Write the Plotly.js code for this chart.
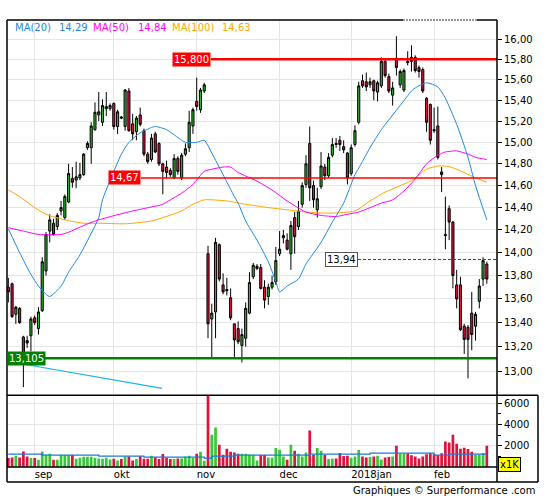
<!DOCTYPE html>
<html><head><meta charset="utf-8">
<script src="https://cdn.plot.ly/plotly-3.0.1.min.js"></script>
<style>html,body{margin:0;padding:0;background:#fff}#chart{width:545px;height:500px}</style>
</head><body><div id="chart"></div>
<script>
// ---- data (trading-day index 0 = 2017-08-23 ... 127 = 2018-02-21) ----
const open  = [13.70,13.73,13.47,13.52,13.28,13.25,13.29,13.44,13.35,13.50,13.84,14.19,14.26,14.23,14.37,14.31,14.45,14.665,14.65,14.67,
14.70,14.95,14.95,15.12,15.26,15.19,15.32,15.32,15.37,15.15,15.24,15.15,15.49,15.175,15.10,15.26,15.11,14.89,14.84,15.08,
14.99,14.80,14.77,14.74,14.67,14.85,14.67,14.89,14.95,15.155,15.39,15.31,15.49,13.99,13.43,13.49,14.07,13.72,13.68,13.61,
13.39,13.35,13.21,13.27,13.48,13.79,13.86,13.87,13.70,13.62,13.70,13.745,13.99,14.13,14.11,13.99,14.31,14.23,14.43,14.61,
14.99,14.60,14.38,14.59,14.77,14.69,14.88,14.99,15.02,14.96,14.90,14.71,14.98,15.19,15.59,15.58,15.55,15.59,15.48,15.54,
15.78,15.63,15.45,15.81,15.55,15.50,15.78,15.82,15.82,15.72,15.70,15.42,15.36,15.12,15.155,14.725,14.16,14.39,14.27,13.72,
13.72,13.37,13.36,13.48,13.37,13.58,13.77,13.90];
const high  = [13.78,13.74,13.54,13.53,13.29,13.29,13.45,13.46,13.53,13.96,14.18,14.34,14.30,14.35,14.46,14.52,14.80,14.77,14.82,14.81,
14.90,15.01,15.19,15.38,15.48,15.41,15.48,15.37,15.38,15.31,15.25,15.51,15.52,15.27,15.25,15.33,15.13,14.91,15.08,15.10,
15.00,14.81,14.83,14.76,14.89,14.87,14.90,14.99,15.30,15.33,15.62,15.52,15.57,14.06,13.56,14.13,14.08,13.82,13.78,13.69,
13.39,13.41,13.35,13.57,13.83,13.91,13.90,13.90,13.76,13.73,13.80,14.05,14.19,14.20,14.17,14.28,14.36,14.46,14.63,14.88,
15.15,14.645,14.58,14.91,14.80,14.90,15.04,15.04,15.06,15.02,14.91,14.98,15.16,15.58,15.65,15.67,15.62,15.60,15.59,15.82,
15.81,15.66,15.58,16.03,15.70,15.71,15.88,15.94,15.84,15.74,15.72,15.43,15.37,15.33,15.34,14.77,14.50,14.42,14.28,13.85,
13.79,13.39,13.38,13.66,13.49,13.77,13.96,13.92];
const low   = [13.57,13.44,13.39,13.39,12.87,13.19,13.16,13.38,13.30,13.49,13.80,14.09,14.15,14.20,14.33,14.29,14.44,14.58,14.575,14.65,
14.69,14.93,14.80,15.11,15.20,15.155,15.25,15.30,15.12,15.08,15.22,15.11,15.10,15.02,15.02,15.15,14.87,14.80,14.82,14.90,
14.78,14.52,14.665,14.68,14.66,14.70,14.65,14.87,14.91,15.08,15.30,15.28,15.47,13.27,13.10,13.27,13.75,13.64,13.63,13.42,
13.10,13.22,13.07,13.20,13.47,13.77,13.85,13.68,13.52,13.55,13.68,13.72,13.97,14.08,14.02,13.85,13.99,14.20,14.40,14.58,
14.46,14.40,14.31,14.57,14.65,14.67,14.86,14.95,14.92,14.90,14.61,14.69,14.96,15.17,15.52,15.49,15.52,15.40,15.39,15.52,
15.62,15.47,15.35,15.64,15.52,15.48,15.74,15.68,15.67,15.62,15.47,15.10,14.98,15.09,14.84,14.54,14.03,14.11,13.69,13.52,
13.33,13.14,12.94,13.17,13.25,13.52,13.71,13.73];
const close = [13.66,13.45,13.53,13.40,13.09,13.23,13.43,13.40,13.49,13.92,14.16,14.29,14.16,14.33,14.40,14.50,14.71,14.63,14.68,14.70,
14.89,14.99,15.155,15.285,15.29,15.35,15.34,15.35,15.15,15.29,15.23,15.50,15.11,15.08,15.23,15.17,14.89,14.82,15.04,14.91,
14.80,14.73,14.72,14.70,14.85,14.73,14.88,14.94,15.19,15.31,15.34,15.50,15.55,13.39,13.48,14.09,13.77,13.66,13.67,13.44,
13.255,13.24,13.30,13.52,13.74,13.89,13.88,13.69,13.59,13.70,13.74,13.93,14.03,14.15,14.03,14.24,14.14,14.37,14.60,14.80,
14.58,14.47,14.48,14.78,14.69,14.86,14.98,14.98,14.98,14.93,14.67,14.95,15.11,15.54,15.54,15.53,15.58,15.49,15.57,15.78,
15.64,15.49,15.52,15.72,15.68,15.69,15.77,15.78,15.69,15.68,15.49,15.19,15.02,15.11,14.86,14.70,14.15,14.27,13.80,13.60,
13.34,13.26,13.26,13.30,13.47,13.71,13.93,13.77];
const volume = [845,900,1060,900,1465,1000,845,845,690,1465,1155,1250,690,690,1127,1127,1127,1127,780,875,
970,970,970,875,810,780,875,715,780,620,750,1000,1000,620,750,1030,780,780,1060,900,
750,1220,875,750,750,810,810,970,1060,845,1250,1430,600,7500,3030,3720,2090,1155,1720,1440,
1370,1250,1250,1250,1155,1155,620,1127,1127,900,875,1785,1625,1000,690,2090,1530,1250,1000,1370,
3440,1127,1785,1530,1127,750,800,800,1320,1030,1060,870,1000,1600,1000,900,950,1000,1050,700,
900,950,1000,2000,1250,1250,1250,1100,1000,800,1000,1200,1300,1200,1100,1300,2400,2300,3030,2190,
1720,1810,1690,1440,1155,1155,1310,2000];
// moving averages (day index, value)
const ma20X = [0,3,6,8,10,11,14,16,19,22,24,25,27,30,32,35,38,39,42,46,47,50,52,54,57,60,61,63,66,69,71,72,74,77,79,83,86,89,92,93,96,99,104,107,108,111,114,116,119,122,124,127];
const ma20Y = [14.21,14.00,13.81,13.71,13.64,13.62,13.71,13.83,13.98,14.17,14.31,14.47,14.645,14.89,15.00,15.09,15.14,15.15,15.12,15.02,15.00,15.00,15.02,14.90,14.70,14.50,14.44,14.28,14.11,13.92,13.75,13.66,13.71,13.77,13.90,14.09,14.27,14.44,14.70,14.76,14.95,15.12,15.35,15.49,15.52,15.57,15.53,15.42,15.17,14.86,14.60,14.29];
const ma50X = [0,4,8,14,16,20,24,33,40,41,44,46,49,52,54,57,59,61,66,70,74,79,83,87,90,93,99,102,105,108,111,114,116,119,122,124,127];
const ma50Y = [14.22,14.19,14.16,14.16,14.18,14.24,14.29,14.37,14.42,14.43,14.49,14.53,14.61,14.73,14.75,14.77,14.77,14.72,14.64,14.56,14.46,14.36,14.33,14.32,14.34,14.36,14.44,14.47,14.55,14.66,14.80,14.88,14.91,14.92,14.89,14.86,14.84];
const ma100X = [0,3,7,10,15,20,24,31,38,46,49,52,58,63,69,74,79,85,92,96,100,107,111,114,117,120,124,127];
const ma100Y = [14.56,14.50,14.40,14.34,14.29,14.26,14.26,14.255,14.28,14.37,14.43,14.47,14.46,14.43,14.40,14.38,14.36,14.35,14.37,14.46,14.54,14.645,14.75,14.78,14.775,14.735,14.67,14.63];
// average volume (step line)
const vmaX = [0,9,24,36,52,54,60,80,96,113,117,127];
const vmaY = [1220,1127,1030,940,845,1030,1127,1220,1310,1127,1220,1220];
// month ticks
const monthTicks  = [7,28,50,72,91,113];
const monthLabels = ['sep','okt','nov','dec','2018jan','feb'];
const priceTicks = [13.0,13.2,13.4,13.6,13.8,14.0,14.2,14.4,14.6,14.8,15.0,15.2,15.4,15.6,15.8,16.0];
const volTicks = [2000,4000,6000];
// horizontal levels
const levelResist = 15.8, levelMid = 14.67, levelSupport = 13.105, levelLast = 13.94;
const trendX = [-0.4, 40.8];
const trendY = [13.08, 12.86];

// ---- drawing ----
const L = Math.log10;
const PX = x => (x - 7) / 490;      // pixel -> paper (x)
const PY = y => (467 - y) / 447;    // pixel -> paper (y)
const PRICE_RANGE = [L(12.804), L(16.194)];
const PRICE_DOM = [PY(395.3), 1];
const yPaper = v => PRICE_DOM[0] + (L(v) - PRICE_RANGE[0]) / (PRICE_RANGE[1] - PRICE_RANGE[0]) * (PRICE_DOM[1] - PRICE_DOM[0]);
const fmt2 = v => v.toFixed(2).replace('.', ',');
const days = open.map((_, i) => i);
const GREEN = '#2DB82D', RED = '#DC143C';

const traces = [
  {type:'bar', x:days, y:volume, xaxis:'x', yaxis:'y2', width:0.72,
   marker:{color: days.map(i => close[i] >= open[i] ? '#36C836' : RED), line:{width:0}},
   hoverinfo:'skip', showlegend:false},
  {type:'scatter', mode:'lines', x:vmaX, y:vmaY, xaxis:'x', yaxis:'y2', line:{color:'#1E78DC', width:1.3, shape:'hv'}, hoverinfo:'skip'},
  {type:'scatter', mode:'lines', x:ma100X, y:ma100Y, line:{color:'#FFA500', width:1, shape:'spline', smoothing:0.6}, hoverinfo:'skip'},
  {type:'scatter', mode:'lines', x:ma50X, y:ma50Y, line:{color:'#FF00FF', width:1, shape:'spline', smoothing:0.6}, hoverinfo:'skip'},
  {type:'scatter', mode:'lines', x:ma20X, y:ma20Y, line:{color:'#1E88E8', width:1, shape:'spline', smoothing:0.6}, hoverinfo:'skip'},
  {type:'candlestick', x:days, open, high, low, close, xaxis:'x', yaxis:'y',
   increasing:{line:{color:'#000', width:1}, fillcolor:GREEN},
   decreasing:{line:{color:'#000', width:1}, fillcolor:RED},
   whiskerwidth:0, hoverinfo:'skip', showlegend:false}
];

const K = '#000';
const hline = (x0, v, color, width, dash) => ({type:'line', xref:'paper', yref:'paper', x0, x1:1,
  y0:yPaper(v), y1:yPaper(v), line:{color, width, dash: dash || 'solid'}});
const shapes = [
  // levels
  hline(PX(211), levelResist, '#FF0000', 2.5),
  hline(PX(141), levelMid, '#FF0000', 1.5),
  hline(PX(43), levelSupport, '#008000', 2.5),
  hline(PX(358), levelLast, '#444', 1, '3px,2px'),
  {type:'line', xref:'x', yref:'paper', x0:trendX[0], x1:trendX[1], y0:yPaper(trendY[0]), y1:yPaper(trendY[1]), line:{color:'#18B4F0', width:1.2}},
  // frame
  {type:'line', xref:'paper', yref:'paper', x0:0, x1:PX(403), y0:1, y1:1, line:{color:K, width:1.5}},
  {type:'line', xref:'paper', yref:'paper', x0:PX(403), x1:PX(477), y0:1, y1:1, line:{color:'#333', width:1.2, dash:'2px,1px'}},
  {type:'line', xref:'paper', yref:'paper', x0:PX(477), x1:1, y0:1, y1:1, line:{color:K, width:1.5}},
  {type:'line', xref:'paper', yref:'paper', x0:0, x1:0, y0:1, y1:PY(482), line:{color:K, width:1.5}},
  {type:'line', xref:'paper', yref:'paper', x0:1, x1:1, y0:1, y1:PY(482), line:{color:K, width:1.5}},
  {type:'line', xref:'paper', yref:'paper', x0:0, x1:PX(538), y0:PY(395.3), y1:PY(395.3), line:{color:K, width:1.5}},
  {type:'line', xref:'paper', yref:'paper', x0:0, x1:1, y0:0, y1:0, line:{color:K, width:1.5}},
  {type:'line', xref:'paper', yref:'paper', x0:0, x1:PX(538), y0:PY(482), y1:PY(482), line:{color:K, width:1.5}},
  {type:'line', xref:'paper', yref:'paper', x0:PX(538), x1:PX(538), y0:PY(395.3), y1:PY(482), line:{color:K, width:1.5}}
];

const F = 'DejaVu Sans, Verdana, sans-serif';
const ann = (text, x, y, opts) => Object.assign({text, x, y, xref:'paper', yref:'paper', showarrow:false,
  font:{family:F, size:10, color:'#000'}, xanchor:'left', yanchor:'middle'}, opts || {});
const annotations = [
  ann('MA(20)', PX(13), PY(27), {font:{family:F,size:10,color:'#1E88E8'}}),
  ann(fmt2(ma20Y[ma20Y.length-1]), PX(57), PY(27), {font:{family:F,size:10,color:'#1E88E8'}}),
  ann('MA(50)', PX(91), PY(27), {font:{family:F,size:10,color:'#FF00FF'}}),
  ann(fmt2(ma50Y[ma50Y.length-1]), PX(136), PY(27), {font:{family:F,size:10,color:'#FF00FF'}}),
  ann('MA(100)', PX(170), PY(27), {font:{family:F,size:10,color:'#FFA500'}}),
  ann(fmt2(ma100Y[ma100Y.length-1]), PX(220), PY(27), {font:{family:F,size:10,color:'#FFA500'}}),
  ann('15,800', PX(211), yPaper(levelResist), {xanchor:'right', bgcolor:'#FF0000', borderpad:1, font:{family:F,size:10,color:'#fff'}}),
  ann('14,67', PX(141), yPaper(levelMid), {xanchor:'right', bgcolor:'#FF0000', borderpad:1, font:{family:F,size:10,color:'#fff'}}),
  ann('13,105', PX(7), yPaper(levelSupport), {xanchor:'left', bgcolor:'#008000', borderpad:1, font:{family:F,size:10,color:'#fff'}}),
  ann(fmt2(levelLast), PX(358), yPaper(levelLast), {xanchor:'right', bgcolor:'#fff', bordercolor:'#555', borderwidth:1, borderpad:1}),
  ann('x1K', PX(498.5), PY(464), {bgcolor:'#FFFF00', bordercolor:'#000', borderwidth:1, borderpad:1}),
  ann('Graphiques © Surperformance .com', PX(537), PY(491), {xanchor:'right'})
];

const layout = {
  width:545, height:500, margin:{l:7, r:48, t:20, b:33},
  paper_bgcolor:'#fff', plot_bgcolor:'#fff', showlegend:false,
  font:{family:F, size:10, color:'#000'}, boxgap:0.2,
  xaxis:{range:[-0.35,129.7], tickmode:'array', tickvals:monthTicks, ticktext:monthLabels,
    ticks:'', showgrid:true, gridcolor:'#E6E6E6', gridwidth:1, zeroline:false, showline:false,
    anchor:'y2', rangeslider:{visible:false}, ticklabelposition:'outside right', fixedrange:true},
  yaxis:{domain:PRICE_DOM, type:'log', range:PRICE_RANGE, side:'right',
    tickmode:'array', tickvals:priceTicks, ticktext:priceTicks.map(fmt2),
    ticks:'outside', ticklen:4, tickcolor:'#000', showgrid:true, gridcolor:'#E6E6E6',
    zeroline:false, showline:false, fixedrange:true},
  yaxis2:{domain:[0,PY(395.3)], range:[0,6760], side:'right', tickmode:'array', tickvals:volTicks,
    ticktext:volTicks.map(String), ticks:'outside', ticklen:4, tickcolor:'#000',
    minor:{dtick:1000, ticks:'outside', ticklen:3, tickcolor:'#000', showgrid:false},
    showgrid:true, gridcolor:'#E6E6E6', zeroline:false, showline:false, fixedrange:true},
  shapes, annotations, hovermode:false
};

Plotly.newPlot('chart', traces, layout, {staticPlot:true, displayModeBar:false});
</script>
</body></html>
